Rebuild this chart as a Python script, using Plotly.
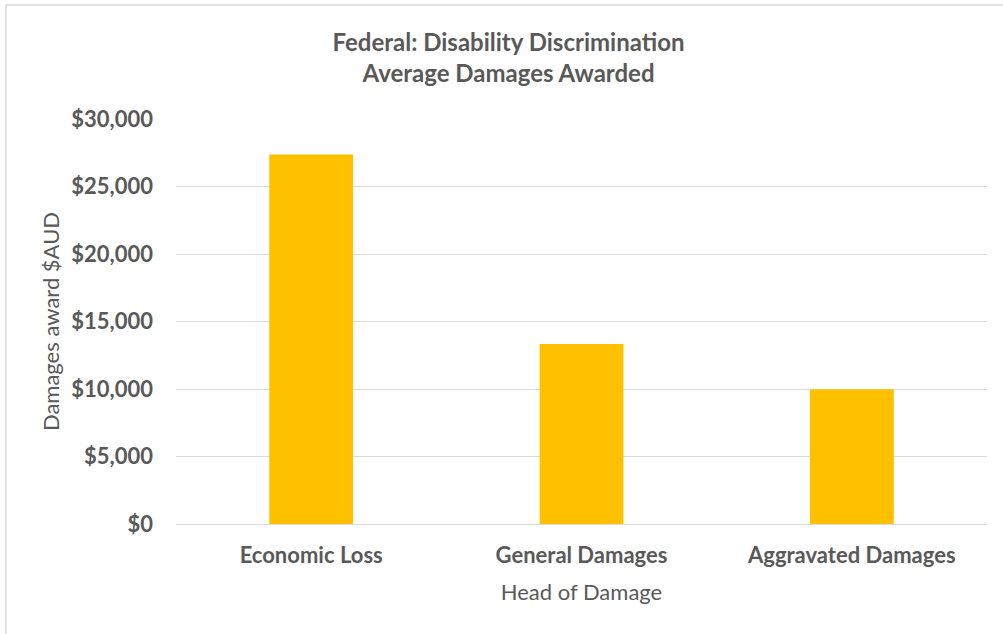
import plotly.graph_objects as go

# Average damages by head of damage (AUD)
categories = ["Economic Loss", "General Damages", "Aggravated Damages"]
avg_damages = [27370, 13340, 9980]
y_ticks = [0, 5000, 10000, 15000, 20000, 25000, 30000]
y_tick_labels = ["$" + format(v, ",d") for v in y_ticks]

TEXT = "#595959"
FONT = "Lato"

fig = go.Figure(
    go.Bar(
        x=categories,
        y=avg_damages,
        marker=dict(color="#FFC000", line=dict(width=0)),
        hoverinfo="x+y",
    )
)

fig.update_layout(
    width=1003,
    height=634,
    margin=dict(l=176, r=16, t=119, b=110),
    paper_bgcolor="white",
    plot_bgcolor="white",
    bargap=0.69,
    showlegend=False,
    font=dict(family=FONT, color=TEXT),
    title=dict(
        text="<b>Federal: Disability Discrimination<br>Average Damages Awarded</b>",
        xref="container",
        yref="container",
        x=0.507,
        xanchor="center",
        y=1 - 51 / 634,
        yanchor="middle",
        font=dict(family=FONT, size=24, color=TEXT),
    ),
    shapes=[
        dict(
            type="rect",
            xref="paper",
            yref="paper",
            x0=(6 - 176) / 811,
            x1=1.05,
            y0=-0.5,
            y1=1 + (119 - 5) / 405,
            line=dict(color="#d9d9d9", width=1.5),
            layer="below",
        )
    ],
)

fig.update_xaxes(
    showgrid=False,
    showline=True,
    linecolor="#d9d9d9",
    linewidth=1,
    ticks="",
    ticklabelstandoff=12,
    tickfont=dict(family=FONT, size=22, color=TEXT, weight="bold"),
    title=dict(
        text="Head of Damage",
        font=dict(family=FONT, size=22, color=TEXT),
        standoff=17,
    ),
)

fig.update_yaxes(
    range=[0, 30000],
    tickvals=y_ticks,
    ticktext=y_tick_labels,
    showgrid=True,
    gridcolor="#d9d9d9",
    gridwidth=1,
    zeroline=False,
    showline=False,
    ticks="",
    ticklabelstandoff=22,
    tickfont=dict(family=FONT, size=22, color=TEXT, weight="bold"),
    title=dict(
        text="Damages award $AUD",
        font=dict(family=FONT, size=22, color=TEXT),
        standoff=5,
    ),
)

fig.write_html("out.html")
